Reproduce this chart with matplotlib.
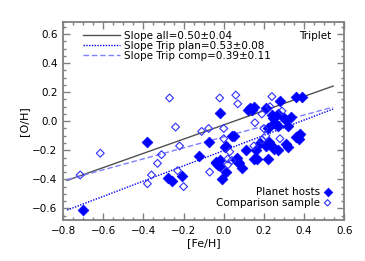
import numpy as np
import matplotlib
matplotlib.use("Agg")
import matplotlib.pyplot as plt
from matplotlib.ticker import MultipleLocator

# Planet hosts ([Fe/H], [O/H])
host_feh = [-0.70, -0.38, -0.28, -0.26, -0.21, -0.125, -0.075, -0.02, -0.01,
            -0.04, -0.03, -0.02, -0.04, -0.02, 0.01, 0.04, 0.05, 0.005, 0.01,
            0.06, 0.07, 0.075, 0.065, 0.09, 0.11, 0.12, 0.13, 0.15, 0.15,
            0.165, 0.18, 0.16, 0.21, 0.22, 0.21, 0.22, 0.225, 0.24, 0.245,
            0.25, 0.26, 0.27, 0.24, 0.25, 0.27, 0.28, 0.27, 0.30, 0.31, 0.32,
            0.31, 0.32, 0.335, 0.36, 0.39, 0.37, 0.375, 0.38, 0.36, 0.14]
host_oh = [-0.61, -0.14, -0.39, -0.41, -0.38, -0.24, -0.14, 0.06, -0.40,
           -0.28, -0.30, -0.31, -0.29, -0.27, -0.35, -0.10, -0.10, -0.18, -0.17,
           -0.27, -0.28, -0.29, -0.25, -0.32, -0.20, 0.08, 0.09, 0.10, -0.26,
           -0.26, -0.15, -0.20, 0.09, -0.05, -0.17, -0.26, -0.14, 0.04, 0.02,
           -0.01, -0.02, -0.03, -0.17, -0.19, -0.20, 0.14, 0.05, 0.02, 0.01,
           -0.03, -0.16, -0.18, 0.03, 0.17, 0.17, -0.10, -0.12, -0.09, -0.11, 0.08]

# Comparison sample
comp_feh = [-0.715, -0.615, -0.36, -0.38, -0.33, -0.31, -0.27, -0.24, -0.22,
            -0.23, -0.20, -0.11, -0.075, -0.07, -0.02, 0.00, 0.00, 0.03, 0.02,
            0.02, 0.04, 0.06, 0.07, 0.15, 0.155, 0.19, 0.20, 0.21, 0.23, 0.24,
            0.28, 0.29, 0.19]
comp_oh = [-0.37, -0.22, -0.37, -0.43, -0.29, -0.23, 0.16, -0.04, -0.17,
           -0.34, -0.45, -0.07, -0.05, -0.35, 0.16, -0.05, -0.12, -0.21, -0.26,
           -0.30, -0.27, 0.18, 0.12, -0.17, -0.01, 0.05, -0.05, -0.10, 0.10, 0.17,
           -0.12, 0.07, -0.13]

# Fit lines: slope, intercept, x-span
fit_labels = ["Slope all=0.50\u00b10.04", "Slope Trip plan=0.53\u00b10.08",
              "Slope Trip comp=0.39\u00b10.11"]
fit_slopes = [0.49, 0.525, 0.377]
fit_intercepts = [-0.025, -0.202, -0.108]
fit_xmin = -0.78
fit_xmax = 0.545

fig = plt.figure(figsize=(3.65, 2.61), dpi=100)
ax = fig.add_axes([0.173, 0.157, 0.770, 0.757])

spine_col = "#808080"
line_styles = [dict(color="#505050", ls="-", lw=1.0),
               dict(color="#0000ee", ls=(0, (1, 1)), lw=1.0),
               dict(color="#7f7fff", ls=(0, (4, 2)), lw=1.0)]

xs = np.array([fit_xmin, fit_xmax])
handles = []
for s, b, st, lab in zip(fit_slopes, fit_intercepts, line_styles, fit_labels):
    h, = ax.plot(xs, s * xs + b, label=lab, **st)
    handles.append(h)

hp = ax.scatter(host_feh, host_oh, marker="D", s=30, color="#0000ff",
                edgecolors="#0000ff", linewidths=0.5, zorder=3)
hc = ax.scatter(comp_feh, comp_oh, marker="D", s=16, facecolors="none",
                edgecolors="#3030ff", linewidths=0.8, zorder=3)

leg = ax.legend(handles=handles, loc="upper left", frameon=False,
                fontsize=7.5, handlelength=3.6, handletextpad=0.4,
                labelspacing=0.0, borderaxespad=0.4, bbox_to_anchor=(0.04, 1.0))

leg2 = ax.legend([hp, hc], ["Planet hosts", "Comparison sample"],
                 loc="lower right", frameon=False, fontsize=7.5,
                 markerfirst=False, handlelength=0.8, handletextpad=0.3,
                 labelspacing=0.05, borderaxespad=0.8, markerscale=0.8)
ax.add_artist(leg)

ax.text(0.955, 0.93, "Triplet", transform=ax.transAxes, ha="right",
        va="center", fontsize=7.5)

ax.set_xlim(-0.8, 0.6)
ax.set_ylim(-0.68, 0.68)
ax.xaxis.set_major_locator(MultipleLocator(0.2))
ax.xaxis.set_minor_locator(MultipleLocator(0.05))
ax.yaxis.set_major_locator(MultipleLocator(0.2))
ax.yaxis.set_minor_locator(MultipleLocator(0.05))
ax.xaxis.set_major_formatter(plt.FuncFormatter(lambda v, p: f"{v:.1f}".replace("-", "\u2212")))
ax.yaxis.set_major_formatter(plt.FuncFormatter(lambda v, p: f"{v:.1f}".replace("-", "\u2212")))
ax.tick_params(which="both", direction="in", top=True, right=True,
               color=spine_col, labelsize=7.5, pad=4)
ax.tick_params(which="major", length=5, width=1.0)
ax.tick_params(which="minor", length=2.5, width=1.0)
for sp in ax.spines.values():
    sp.set_color(spine_col)
    sp.set_linewidth(1.3)

ax.set_xlabel("[Fe/H]", fontsize=8, labelpad=2)
ax.set_ylabel("[O/H]", fontsize=8, labelpad=2)

fig.savefig("out.png", dpi=100)
